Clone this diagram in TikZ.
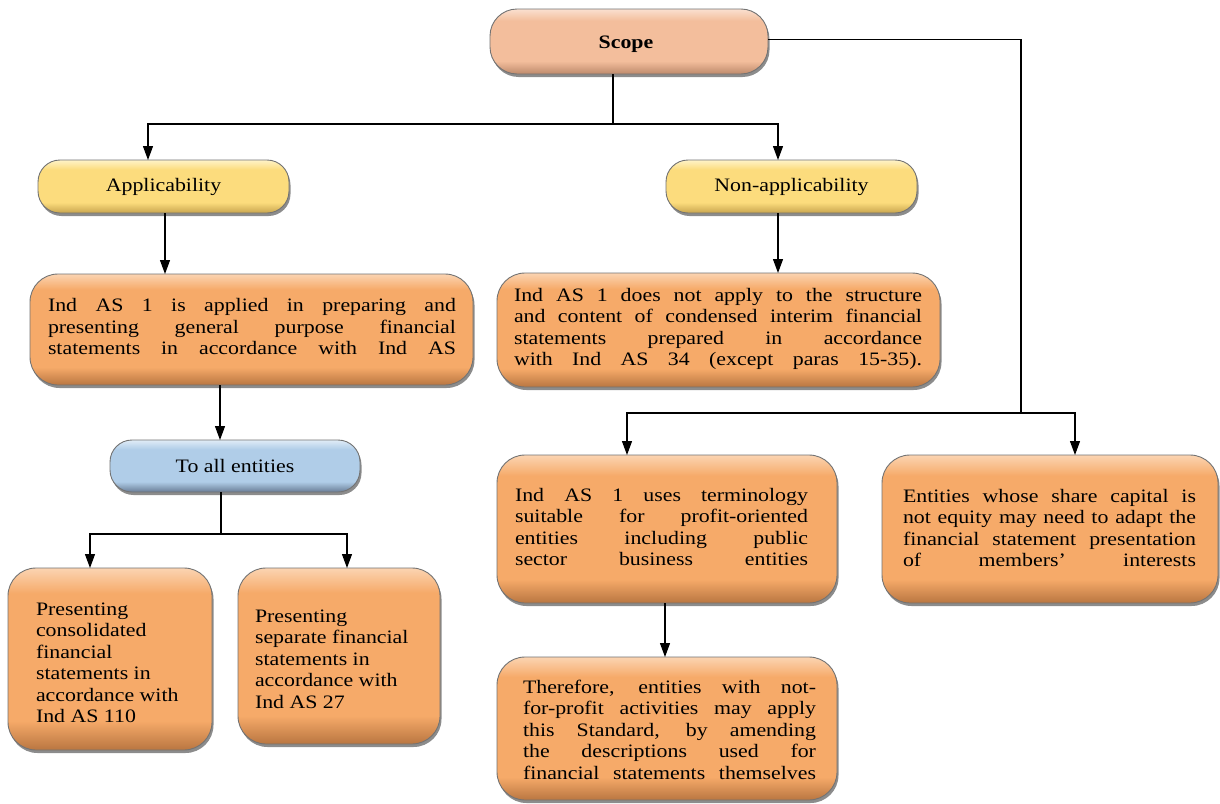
\documentclass[tikz,border=0pt]{standalone}
\usepackage{fontspec}
\setmainfont{Liberation Serif}[FakeStretch=1.15]
\usetikzlibrary{arrows.meta,shadows}
\definecolor{orlt}{RGB}{251,212,178}
\definecolor{orbase}{RGB}{246,170,105}
\definecolor{ordk}{RGB}{185,118,65}
\definecolor{pelt}{RGB}{250,224,208}
\definecolor{pebase}{RGB}{243,190,156}
\definecolor{pedk}{RGB}{190,138,108}
\definecolor{yelt}{RGB}{255,243,200}
\definecolor{yebase}{RGB}{252,220,125}
\definecolor{yedk}{RGB}{200,165,78}
\definecolor{bllt}{RGB}{224,236,247}
\definecolor{blbase}{RGB}{176,205,232}
\definecolor{bldk}{RGB}{105,125,150}
\pgfdeclareverticalshading{orsh}{100bp}{color(0bp)=(ordk); color(25bp)=(ordk); color(33bp)=(orbase); color(68bp)=(orbase); color(75bp)=(orlt); color(100bp)=(orlt)}
\pgfdeclareverticalshading{pesh}{100bp}{color(0bp)=(pedk); color(25bp)=(pedk); color(35bp)=(pebase); color(66bp)=(pebase); color(75bp)=(pelt); color(100bp)=(pelt)}
\pgfdeclareverticalshading{yesh}{100bp}{color(0bp)=(yedk); color(25bp)=(yedk); color(35bp)=(yebase); color(66bp)=(yebase); color(75bp)=(yelt); color(100bp)=(yelt)}
\pgfdeclareverticalshading{blsh}{100bp}{color(0bp)=(bldk); color(25bp)=(bldk); color(35bp)=(blbase); color(66bp)=(blbase); color(75bp)=(bllt); color(100bp)=(bllt)}
\newcommand\jline[2]{\makebox[#1pt][s]{#2}}
\begin{document}
\begin{tikzpicture}[x=1pt,y=-1pt,
  box/.style={rounded corners=#1, draw=black!55, line width=0.9pt, inner sep=0pt, outer sep=0pt,
    drop shadow={shadow xshift=1.5pt, shadow yshift=-3pt, opacity=0.45, fill=black}},
  box/.default=28pt,
  obox/.style={box, shading=orsh},
  pbox/.style={box=27pt, shading=pesh},
  ybox/.style={box=22pt, shading=yesh},
  bbox/.style={box=22pt, shading=blsh},
  txt/.style={inner sep=0pt, outer sep=0pt, anchor=base west, font=\fontsize{19}{21.5}\selectfont},
  lbl/.style={font=\fontsize{19}{21.5}\selectfont},
  arr/.style={line width=1.2pt, -{Triangle[length=14pt,width=10pt]}},
  ln/.style={line width=1.2pt}]
\useasboundingbox[fill=white] (0,0) rectangle (1220,803);

% boxes
\node[pbox, minimum width=278pt, minimum height=65pt] (scope) at (629,41.5) {};
\node[ybox, minimum width=251pt, minimum height=53pt, lbl] (app) at (163.5,186.5) {Applicability};
\node[ybox, minimum width=251pt, minimum height=53pt, lbl] (nonapp) at (791.5,186.5) {Non-applicability};
\node[obox, minimum width=443pt, minimum height=111pt] (applied) at (251.5,329.5) {};
\node[obox, minimum width=443pt, minimum height=114pt] (notapply) at (718.5,330) {};
\node[bbox, minimum width=250pt, minimum height=52pt, lbl] (toall) at (235,466) {To all entities};
\node[obox, minimum width=204pt, minimum height=182pt] (cons) at (110,659) {};
\node[obox, minimum width=202pt, minimum height=176pt] (sep) at (339,656) {};
\node[obox, minimum width=340pt, minimum height=148pt] (term) at (667,529) {};
\node[obox, minimum width=336pt, minimum height=148pt] (ent) at (1050,529) {};
\node[obox, minimum width=340pt, minimum height=143pt] (there) at (667,728.5) {};

% texts
\node[lbl, inner sep=0pt, anchor=base] (t-scope) at (626,48) {\bfseries Scope};
\node[txt] (t-applied) at (48,311.5) {\begin{tabular}[t]{@{}l@{}}
\jline{408}{Ind AS 1 is applied in preparing and}\\
\jline{408}{presenting general purpose financial}\\
\jline{408}{statements in accordance with Ind AS}\end{tabular}};
\node[txt] (t-notapply) at (514,301) {\begin{tabular}[t]{@{}l@{}}
\jline{408}{Ind AS 1 does not apply to the structure}\\
\jline{408}{and content of condensed interim financial}\\
\jline{408}{statements prepared in accordance}\\
\jline{408}{with Ind AS 34 (except paras 15-35).}\end{tabular}};
\node[txt] (t-cons) at (36,615) {\begin{tabular}[t]{@{}l@{}}
Presenting\\consolidated\\financial\\statements in\\accordance with\\Ind AS 110\end{tabular}};
\node[txt] (t-sep) at (255,622) {\begin{tabular}[t]{@{}l@{}}
Presenting\\separate financial\\statements in\\accordance with\\Ind AS 27\end{tabular}};
\node[txt] (t-term) at (515,501) {\begin{tabular}[t]{@{}l@{}}
\jline{293}{Ind AS 1 uses terminology}\\
\jline{293}{suitable for profit-oriented}\\
\jline{293}{entities including public}\\
\jline{293}{sector business entities}\end{tabular}};
\node[txt] (t-ent) at (903,502) {\begin{tabular}[t]{@{}l@{}}
\jline{293}{Entities whose share capital is}\\
\jline{293}{not equity may need to adapt the}\\
\jline{293}{financial statement presentation}\\
\jline{293}{of members’ interests}\end{tabular}};
\node[txt] (t-there) at (523,693) {\begin{tabular}[t]{@{}l@{}}
\jline{293}{Therefore, entities with not-}\\
\jline{293}{for-profit activities may apply}\\
\jline{293}{this Standard, by amending}\\
\jline{293}{the descriptions used for}\\
\jline{293}{financial statements themselves}\end{tabular}};

% connectors
\coordinate (j1) at (613,124);
\coordinate (j2) at (1021,413);
\coordinate (j3) at (221,534);
\draw[ln] (scope.south -| j1) -- (j1);
\draw[arr] (j1) -| ([xshift=-15.5pt]app.north);
\draw[arr] (j1) -| ([xshift=-13.5pt]nonapp.north);
\draw[ln] ([yshift=2pt]scope.east) -| (j2);
\draw[arr] (j2) -| ([xshift=-40pt]term.north);
\draw[arr] (j2) -| ([xshift=25pt]ent.north);
\draw[arr] ([xshift=1.5pt]app.south) -- ([xshift=1.5pt]app.south |- applied.north);
\draw[arr] ([xshift=-13.5pt]nonapp.south) -- ([xshift=-13.5pt]nonapp.south |- notapply.north);
\draw[arr] ([xshift=-31.5pt]applied.south) -- ([xshift=-31.5pt]applied.south |- toall.north);
\draw[ln] (toall.south -| j3) -- (j3);
\draw[arr] (j3) -| ([xshift=-20pt]cons.north);
\draw[arr] (j3) -| ([xshift=8pt]sep.north);
\draw[arr] ([xshift=-2pt]term.south) -- ([xshift=-2pt]term.south |- there.north);
\end{tikzpicture}
\end{document}
